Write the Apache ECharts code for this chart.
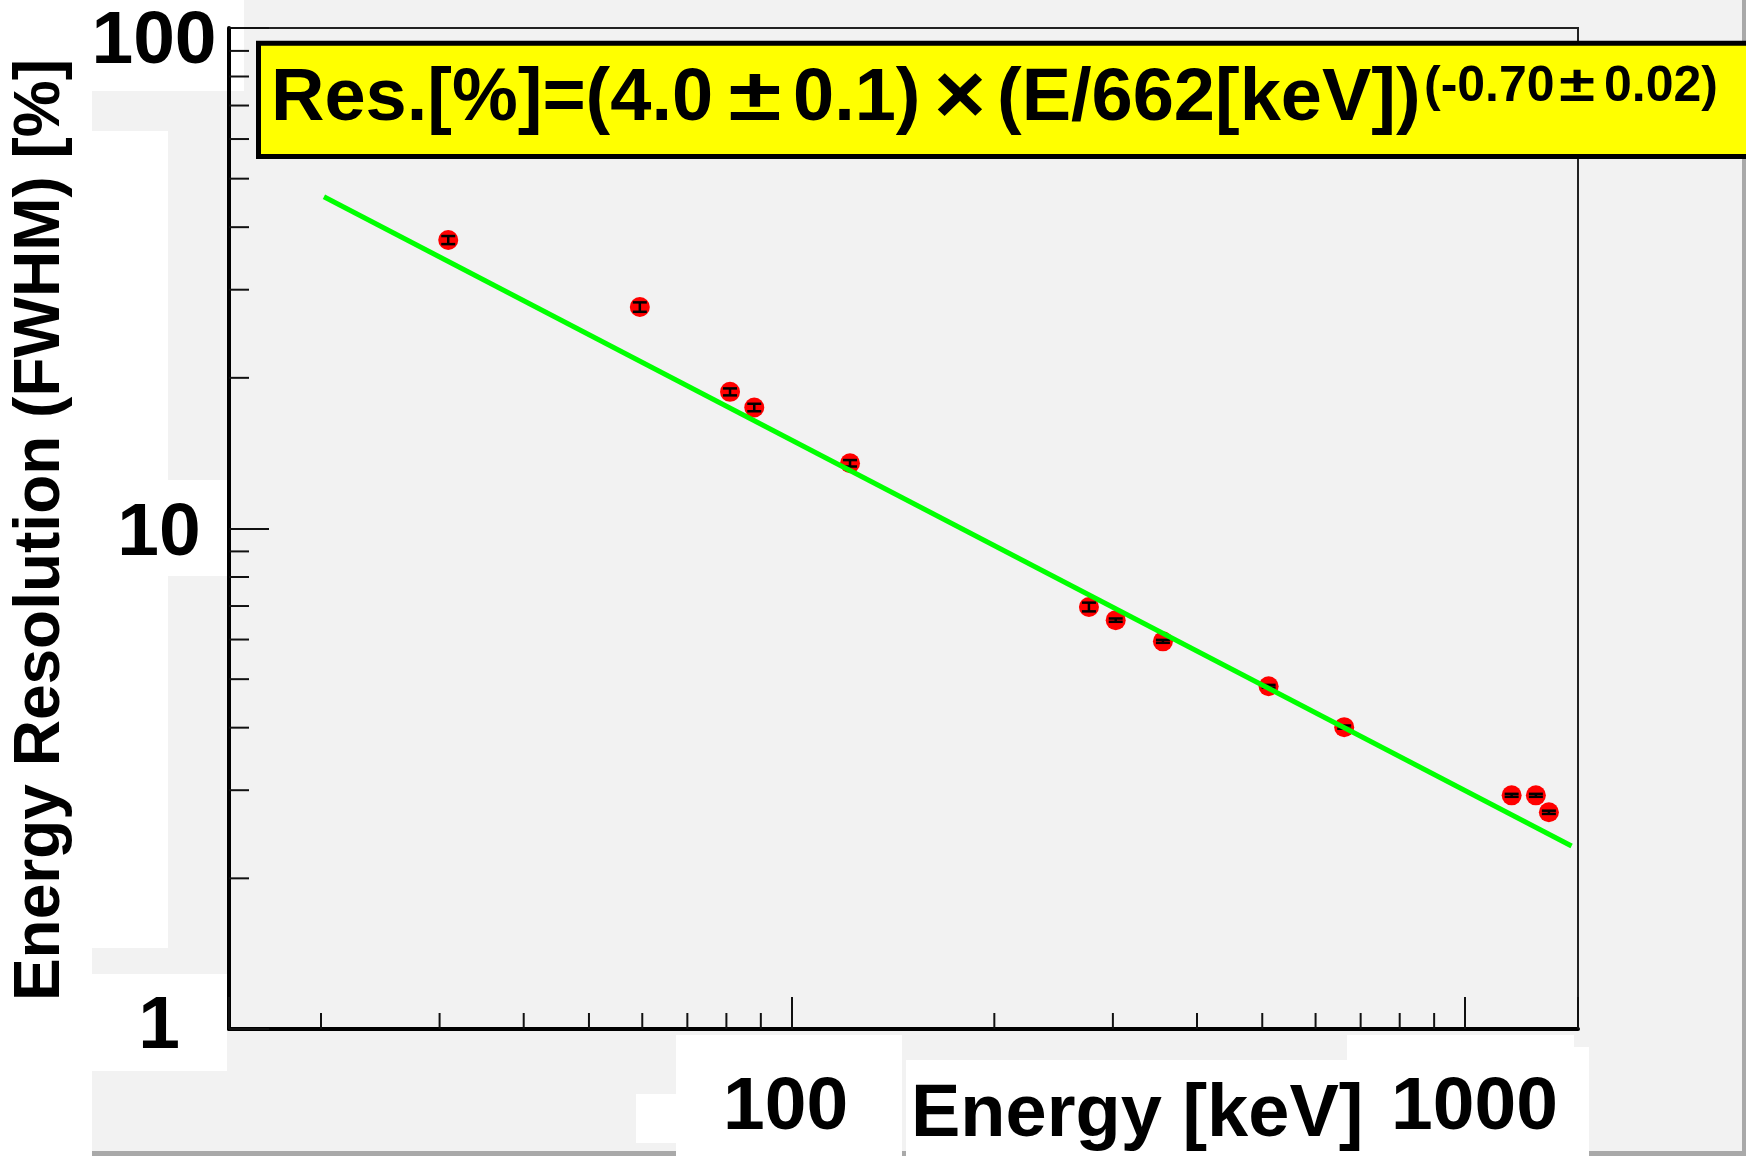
<!DOCTYPE html>
<html>
<head>
<meta charset="utf-8">
<title>Energy resolution vs energy</title>
<style>
  html, body { margin: 0; padding: 0; background: #f2f2f2; }
  #chart { width: 1746px; height: 1156px; }
</style>
<script src="https://cdn.jsdelivr.net/npm/echarts@6/dist/echarts.min.js"></script>
</head>
<body>
<div id="chart"></div>
<script>
// Gamma-ray line energies [keV]
const energies = [30.9, 59.5, 81.0, 88.0, 122.1, 276.4, 302.9, 356.0, 511.0, 661.7, 1173.2, 1274.5, 1332.5];
// Measured energy resolution, FWHM [%]
const resolution = [37.7, 27.7, 18.75, 17.45, 13.5, 6.97, 6.56, 5.95, 4.84, 4.01, 2.93, 2.93, 2.71];
// Uncertainty on the resolution [%]
const resolutionErr = [0.7, 0.6, 0.3, 0.3, 0.2, 0.14, 0.05, 0.04, 0.03, 0.03, 0.02, 0.02, 0.02];

// Power-law fit: Res = A * (E / Eref)^k, drawn over the fitted energy range
const fitNorm = 4.0;
const fitIndex = -0.70;
const fitRefEnergy = 662;
const fitRange = [20.2, 1440];

// Axis ranges and ticks
const xRange = [14.6, 1472];
const yRange = [1, 100];
const xMinorTicks = [20, 30, 40, 50, 60, 70, 80, 90, 200, 300, 400, 500, 600, 700, 800, 900];
const yMinorTicks = [2, 3, 4, 5, 6, 7, 8, 9, 20, 30, 40, 50, 60, 70, 80, 90];
const xTickLabels = [100, 1000];
const yTickLabels = [1, 10, 100];

const FONT = '"Liberation Sans", Arial, sans-serif';
const fitValue = e => fitNorm * Math.pow(e / fitRefEnergy, fitIndex);
const fitLine = fitRange.map(e => [e, fitValue(e)]);

function isTick(v, list) {
  const k = Math.round(v);
  return Math.abs(v - k) < 1e-6 && list.indexOf(k) >= 0 ? k : null;
}

function bold(size, pad) {
  return { fontFamily: FONT, fontWeight: 'bold', fontSize: size, color: '#000', padding: pad };
}

function label(text, x, y, size, align, extra) {
  return Object.assign({
    type: 'text', z: 51, silent: true, x: x, y: y,
    style: { text: text, font: 'bold ' + size + 'px ' + FONT, fill: '#000',
             textAlign: align, textVerticalAlign: 'middle', align: align, verticalAlign: 'middle' }
  }, extra || {});
}

const chart = echarts.init(document.getElementById('chart'), null, { renderer: 'canvas' });

const option = {
  animation: false,
  backgroundColor: '#f2f2f2',
  grid: {
    left: 229, right: 168, top: 28, bottom: 127,
    show: true, borderColor: '#222', borderWidth: 2,
    backgroundColor: 'transparent',
    containLabel: false, outerBoundsMode: 'none'
  },
  xAxis: {
    type: 'log', logBase: 10,
    min: xRange[0], max: xRange[1],
    axisLine: { show: true, onZero: false, lineStyle: { color: '#000', width: 4 } },
    axisTick: { show: true, inside: true, length: 32, lineStyle: { color: '#111', width: 2 } },
    minorTick: { show: false },
    splitLine: { show: false },
    axisLabel: {
      margin: 42,
      fontFamily: FONT, fontWeight: 'bold', fontSize: 75, color: '#000',
      formatter: v => {
        const k = isTick(v, xTickLabels);
        if (k === 100) return '{a|100}';
        if (k === 1000) return '{b|1000}';
        return '';
      },
      rich: { a: bold(75, [0, 12, 0, 0]), b: bold(75, [0, 0, 0, 19]) }
    }
  },
  yAxis: {
    type: 'log', logBase: 10,
    min: yRange[0], max: yRange[1],
    axisLine: { show: true, onZero: false, lineStyle: { color: '#000', width: 4 } },
    axisTick: { show: true, inside: true, length: 40, lineStyle: { color: '#111', width: 2 } },
    minorTick: { show: false },
    splitLine: { show: false },
    axisLabel: {
      margin: 70, align: 'center',
      fontFamily: FONT, fontWeight: 'bold', fontSize: 75, color: '#000',
      formatter: v => {
        const k = isTick(v, yTickLabels);
        if (k === 100) return '{t|100}';
        if (k === 10) return '{m|10}';
        if (k === 1) return '{o|1}';
        return '';
      },
      rich: { t: bold(75, [28, 10, 0, 0]), m: bold(75, [11, 0, 0, 0]), o: bold(75, [0, 0, 4, 0]) }
    }
  },
  series: [
    {
      // minor ticks along the energy axis
      type: 'custom', silent: true, clip: false, z: 6,
      data: xMinorTicks.map(v => [v, yRange[0]]),
      renderItem: (params, api) => {
        const p = api.coord([api.value(0), api.value(1)]);
        return { type: 'line', shape: { x1: p[0], y1: p[1], x2: p[0], y2: p[1] - 16 },
                 style: { stroke: '#111', lineWidth: 2 } };
      }
    },
    {
      // minor ticks along the resolution axis
      type: 'custom', silent: true, clip: false, z: 6,
      data: yMinorTicks.map(v => [xRange[0], v]),
      renderItem: (params, api) => {
        const p = api.coord([api.value(0), api.value(1)]);
        return { type: 'line', shape: { x1: p[0], y1: p[1], x2: p[0] + 20, y2: p[1] },
                 style: { stroke: '#111', lineWidth: 2 } };
      }
    },
    {
      name: 'Resolution', type: 'scatter', z: 3,
      symbol: 'circle', symbolSize: 20,
      itemStyle: { color: '#ff0000', opacity: 1 },
      data: energies.map((e, i) => [e, resolution[i]])
    },
    {
      // error bars
      type: 'custom', silent: true, z: 4,
      encode: { x: 0, y: [1, 2] },
      data: energies.map((e, i) => [e, resolution[i] - resolutionErr[i], resolution[i] + resolutionErr[i]]),
      renderItem: (params, api) => {
        const lo = api.coord([api.value(0), api.value(1)]);
        const hi = api.coord([api.value(0), api.value(2)]);
        const w = 7;
        const st = { stroke: '#000', lineWidth: 2.5 };
        return { type: 'group', children: [
          { type: 'line', shape: { x1: lo[0], y1: lo[1], x2: hi[0], y2: hi[1] }, style: st },
          { type: 'line', shape: { x1: lo[0] - w, y1: lo[1], x2: lo[0] + w, y2: lo[1] }, style: st },
          { type: 'line', shape: { x1: hi[0] - w, y1: hi[1], x2: hi[0] + w, y2: hi[1] }, style: st }
        ] };
      }
    },
    {
      name: 'Fit', type: 'line', z: 5,
      symbol: 'none', silent: true,
      lineStyle: { color: '#00ff00', width: 5 },
      data: fitLine
    }
  ],
  graphic: [
    // canvas bevel
    { type: 'rect', z: -2, silent: true, shape: { x: 92, y: 1151, width: 1654, height: 5 }, style: { fill: '#a9a9a9' } },
    { type: 'rect', z: -2, silent: true, shape: { x: 1742, y: 0, width: 4, height: 1156 }, style: { fill: '#a9a9a9' } },
    // white label panels
    { type: 'rect', z: -1, silent: true, shape: { x: 0, y: 0, width: 92, height: 1156 }, style: { fill: '#fff' } },
    { type: 'rect', z: -1, silent: true, shape: { x: 92, y: 0, width: 152, height: 91 }, style: { fill: '#fff' } },
    { type: 'rect', z: -1, silent: true, shape: { x: 92, y: 131, width: 76, height: 817 }, style: { fill: '#fff' } },
    { type: 'rect', z: -1, silent: true, shape: { x: 92, y: 480, width: 135, height: 96 }, style: { fill: '#fff' } },
    { type: 'rect', z: -1, silent: true, shape: { x: 92, y: 974, width: 135, height: 97 }, style: { fill: '#fff' } },
    { type: 'rect', z: -1, silent: true, shape: { x: 636, y: 1094, width: 50, height: 49 }, style: { fill: '#fff' } },
    { type: 'rect', z: -1, silent: true, shape: { x: 676, y: 1035, width: 226, height: 121 }, style: { fill: '#fff' } },
    { type: 'rect', z: -1, silent: true, shape: { x: 906, y: 1060, width: 441, height: 96 }, style: { fill: '#fff' } },
    { type: 'rect', z: -1, silent: true, shape: { x: 1347, y: 1035, width: 227, height: 121 }, style: { fill: '#fff' } },
    { type: 'rect', z: -1, silent: true, shape: { x: 1347, y: 1047, width: 242, height: 109 }, style: { fill: '#fff' } },

    // axis titles
    label('Energy Resolution (FWHM) [%]', 41, 530, 64, 'center', { z: 20, rotation: Math.PI / 2 }),
    label('Energy [keV]', 911, 1116, 74, 'left', { z: 20 }),

    // fit result box
    { type: 'rect', z: 50, silent: true, shape: { x: 258.5, y: 43.2, width: 1600, height: 113.3 },
      style: { fill: '#ffff00', stroke: '#000', lineWidth: 5 } },
    label('Res.[%]=(4.0', 271, 100, 74, 'left'),
    label('\u00b1', 755, 100, 74, 'center', { scaleX: 1.3 }),
    label('0.1)', 793, 100, 74, 'left'),
    label('\u00d7', 960, 100, 74, 'center', { scaleX: 1.2, scaleY: 1.15 }),
    label('(E/662[keV])', 997, 100, 74, 'left'),
    label('(-0.70', 1424, 87, 50, 'left'),
    label('\u00b1', 1577, 87, 50, 'center', { scaleX: 1.3 }),
    label('0.02)', 1604, 87, 50, 'left')
  ]
};

chart.setOption(option);
</script>
</body>
</html>
